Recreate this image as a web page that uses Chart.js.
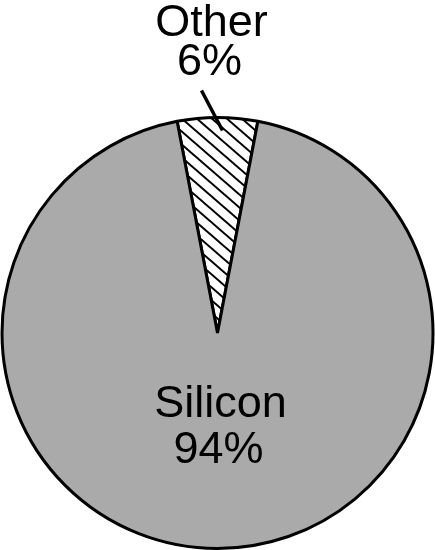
<!DOCTYPE html>
<html lang="en">
<head>
    <meta charset="UTF-8">
    <title>Silicon share</title>
    <script src="https://cdn.jsdelivr.net/npm/chart.js"></script>
    <style>
        body {
            margin: 0;
            background: white;
        }
        canvas {
            display: block;
        }
    </style>
</head>
<body>
    <canvas id="pieCanvas" width="435" height="550"></canvas>
    <script>
        const categories = ["Other", "Silicon"];
        const shares = [6, 94];

        // diagonal hatch for the small slice
        function makeHatch() {
            const tile = document.createElement("canvas");
            tile.width = 15;
            tile.height = 13;
            const t = tile.getContext("2d");
            t.fillStyle = "white";
            t.fillRect(0, 0, 15, 13);
            t.strokeStyle = "black";
            t.lineWidth = 2;
            for (let k = -1; k <= 1; k++) {
                t.beginPath();
                t.moveTo(-15, -13 + k * 13);
                t.lineTo(30, 26 + k * 13);
                t.stroke();
            }
            return t.createPattern(tile, "repeat");
        }

        const ctx = document.getElementById("pieCanvas").getContext("2d");
        const hatch = makeHatch();

        const labelPlugin = {
            id: "sliceLabels",
            afterDraw(chart) {
                const c = chart.ctx;
                const meta = chart.getDatasetMeta(0);
                const arc = meta.data[0];
                const cx = arc.x, cy = arc.y, r = arc.outerRadius;
                const top = cy - r;
                c.save();
                c.fillStyle = "black";
                c.font = "45px 'Liberation Sans', Arial, sans-serif";
                c.textAlign = "center";
                c.textBaseline = "alphabetic";
                c.fillText(categories[0], cx - 6, top - 82);
                c.fillText(shares[0] + "%", cx - 8, top - 43);
                c.fillText(categories[1], cx + 3, cy + 84);
                c.fillText(shares[1] + "%", cx + 1, cy + 130);
                // leader line
                c.beginPath();
                c.moveTo(cx - 16, top - 27);
                c.lineTo(cx + 5, top + 13);
                c.lineWidth = 3.5;
                c.strokeStyle = "black";
                c.stroke();
                c.restore();
            }
        };

        new Chart(ctx, {
            type: "pie",
            data: {
                labels: categories,
                datasets: [{
                    data: shares,
                    backgroundColor: [hatch, "#aaaaaa"],
                    borderColor: "black",
                    borderWidth: 3,
                    hoverOffset: 0
                }]
            },
            options: {
                responsive: false,
                animation: false,
                rotation: -shares[0] / 100 * 180,
                layout: { padding: { top: 116, left: 0, right: 0, bottom: 0 } },
                plugins: {
                    legend: { display: false },
                    tooltip: { enabled: false }
                }
            },
            plugins: [labelPlugin]
        });
    </script>
</body>
</html>
